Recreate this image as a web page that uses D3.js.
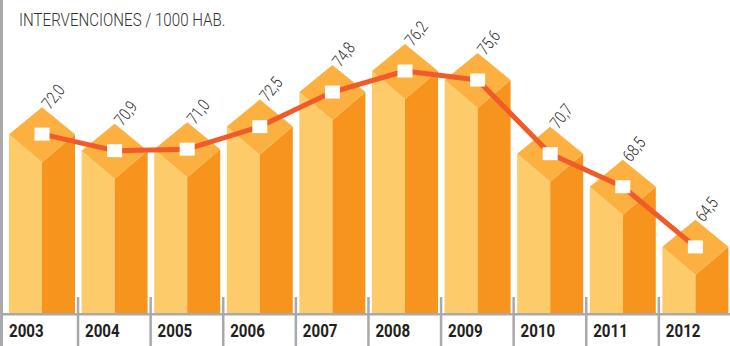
<!DOCTYPE html>
<html>
<head>
<meta charset="utf-8">
<script src="https://cdn.jsdelivr.net/npm/d3@7"></script>
<style>
  html, body { margin: 0; padding: 0; background: #fff; }
  svg { display: block; }
  .title { font-family: "Roboto", sans-serif; font-size: 18px; font-weight: 300; fill: #333; }
  .val { font-family: "Roboto", sans-serif; font-size: 17px; font-weight: 300; fill: #2b2b2b; }
  .year { font-family: "Roboto", sans-serif; font-size: 18px; font-weight: bold; fill: #231f20; }
</style>
</head>
<body>
<script>
// Interventions per 1000 inhabitants, by year
const years = ["2003", "2004", "2005", "2006", "2007", "2008", "2009", "2010", "2011", "2012"];
const values = [72.0, 70.9, 71.0, 72.5, 74.8, 76.2, 75.6, 70.7, 68.5, 64.5];
const valueLabels = ["72,0", "70,9", "71,0", "72,5", "74,8", "76,2", "75,6", "70,7", "68,5", "64,5"];
const titleText = "INTERVENCIONES / 1000 HAB.";

const W = 730, H = 346;
const baseY = 313;

const svg = d3.select("body").append("svg").attr("width", W).attr("height", H);

const x = d3.scaleBand().domain(years).range([5.4, 731.4]).padding(0);
const y = d3.scaleLinear().domain([60.1, 76.2]).range([baseY, 71]);

const inset = 3.6;
const barW = 66;
const capUp = 27, capDown = 28;

const data = years.map((yr, i) => ({ yr, v: values[i], label: valueLabels[i] }));

// frame lines
svg.append("rect").attr("x", 0).attr("y", 0).attr("width", 3).attr("height", H).attr("fill", "#a7a9ac");
svg.append("rect").attr("x", 3).attr("y", baseY).attr("width", W).attr("height", 2.5).attr("fill", "#a7a9ac");

// isometric columns
const g = svg.append("g");
data.forEach(d => {
  const l = x(d.yr) + inset, r = l + barW, c = l + barW / 2;
  const t = y(d.v);
  // left face
  g.append("path").attr("fill", "#fdcb69")
    .attr("d", `M${l},${t}L${c},${t + capDown}L${c},${baseY}L${l},${baseY}Z`);
  // right face
  g.append("path").attr("fill", "#f7941e")
    .attr("d", `M${c},${t + capDown}L${r},${t}L${r},${baseY}L${c},${baseY}Z`);
  // top cap
  g.append("path").attr("fill", "#fbb040")
    .attr("d", `M${l},${t}L${c},${t - capUp}L${r},${t}L${c},${t + capDown}Z`);
});

// column separators below the baseline
years.slice(1).forEach(yr => {
  svg.append("rect").attr("x", x(yr) - 1.2).attr("y", 297).attr("width", 2.5).attr("height", H - 297).attr("fill", "#a7a9ac");
});

// trend line
const line = d3.line().x(d => x(d.yr) + inset + barW / 2).y(d => y(d.v));
svg.append("path").datum(data).attr("d", line)
  .attr("fill", "none").attr("stroke", "#f15a29").attr("stroke-width", 5).attr("stroke-linejoin", "round");

// markers
svg.selectAll("rect.mk").data(data).join("rect").attr("class", "mk")
  .attr("x", d => x(d.yr) + inset + barW / 2 - 7.5)
  .attr("y", d => y(d.v) - 6.5)
  .attr("width", 15).attr("height", 13).attr("fill", "#fff");

// value labels (condensed by horizontal scaling)
svg.selectAll("text.val").data(data).join("text").attr("class", "val")
  .attr("transform", d => `translate(${x(d.yr) + inset + barW / 2 + 8},${y(d.v) - capUp + 3}) rotate(-52) scale(0.8,1)`)
  .text(d => d.label);

// year labels
svg.selectAll("text.year").data(data).join("text").attr("class", "year")
  .attr("transform", (d, i) => `translate(${i === 0 ? 9 : x(d.yr) + 7},337) scale(0.84,1)`)
  .text(d => d.yr);

// title
svg.append("text").attr("class", "title")
  .attr("transform", "translate(19,26) scale(0.84,1)")
  .text(titleText);
</script>
</body>
</html>
